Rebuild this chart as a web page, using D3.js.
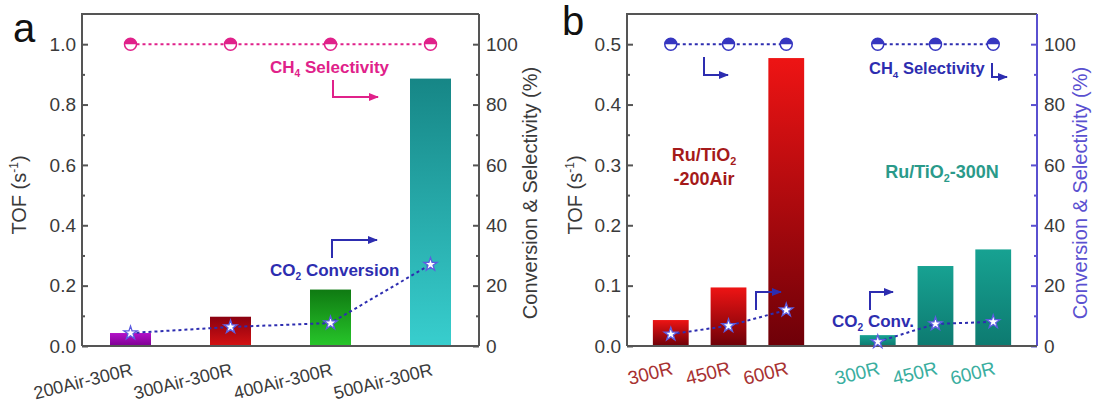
<!DOCTYPE html>
<html>
<head>
<meta charset="utf-8">
<script src="https://cdn.jsdelivr.net/npm/d3@7"></script>
<style>
  body { margin: 0; background: #fff; }
  svg { font-family: "Liberation Sans", Arial, sans-serif; }
</style>
</head>
<body>
<svg id="chart"></svg>
<script>
(() => {

  // panel a
  const catsA = ['200Air-300R', '300Air-300R', '400Air-300R', '500Air-300R'];
  const tofA = [0.043, 0.097, 0.187, 0.886];
  const convA = [4.3, 6.3, 7.6, 27];
  const selA = [100, 100, 100, 100];
  const barColorsA = [['#b312c8', '#7d0092'], ['#8a0010', '#d41212'], ['#0f7a12', '#27c62a'], ['#168686', '#38cece']];

  // panel b
  const groupsB = ['Ru/TiO2-200Air', 'Ru/TiO2-300N'];
  const catsB = ['300R', '450R', '600R'];
  const tofB = [[0.043, 0.097, 0.477], [0.018, 0.1325, 0.16]];
  const convB = [[3.9, 6.7, 11.9], [1.4, 7.3, 8.0]];
  const selB = [[100, 100, 100], [100, 100, 100]];

  const ticksTofA = [0, 0.2, 0.4, 0.6, 0.8, 1.0];
  const ticksTofB = [0, 0.1, 0.2, 0.3, 0.4, 0.5];
  const ticksPct = [0, 20, 40, 60, 80, 100];

  const width = 1099, height = 402;
  const svg = d3.select('#chart').attr('width', width).attr('height', height);
  svg.append('rect').attr('width', width).attr('height', height).attr('fill', '#fff');

  const defs = svg.append('defs');
  function grad(id, top, bottom) {
    const g = defs.append('linearGradient').attr('id', id)
      .attr('x1', 0).attr('y1', 0).attr('x2', 0).attr('y2', 1);
    g.append('stop').attr('offset', '0%').attr('stop-color', top);
    g.append('stop').attr('offset', '100%').attr('stop-color', bottom);
  }
  barColorsA.forEach((c, i) => grad('ga' + i, c[0], c[1]));
  grad('gred', '#ee1414', '#6e0008');
  grad('gteal', '#17a292', '#0d7a70');

  function arrowMarker(id, color) {
    defs.append('marker').attr('id', id)
      .attr('viewBox', '0 0 10 10').attr('refX', 9).attr('refY', 5)
      .attr('markerWidth', 5).attr('markerHeight', 5).attr('orient', 'auto')
      .append('path').attr('d', 'M0,1 L10,5 L0,9 Z').attr('fill', color);
  }
  const pink = '#e0218a', blue = '#2d2db0', axisGray = '#555', txtGray = '#3a3a3a';
  const axisBlue = '#5a50d0';
  arrowMarker('arPink', pink);
  arrowMarker('arBlue', blue);

  const top = 14, bottom = 346;

  function drawAxes(g, x0, x1, y, yR, ticks, minorStep, rightColor, leftTitleX, rightTitleX) {
    const fmtL = d3.format('.1f');
    g.append('g').attr('transform', `translate(${x0},0)`)
      .call(d3.axisLeft(y).tickValues(ticks).tickSize(-6).tickPadding(6).tickFormat(fmtL));
    const minors = d3.range(minorStep, y.domain()[1], minorStep * 2);
    g.append('g').attr('transform', `translate(${x0},0)`)
      .call(d3.axisLeft(y).tickValues(minors).tickSize(-3).tickFormat(''));
    const right = g.append('g').attr('transform', `translate(${x1},0)`)
      .call(d3.axisRight(yR).tickValues(ticksPct).tickSize(-6).tickPadding(7));
    const rightMinor = g.append('g').attr('transform', `translate(${x1},0)`)
      .call(d3.axisRight(yR).tickValues(d3.range(10, 110, 20)).tickSize(-3).tickFormat(''));
    g.selectAll('.domain').remove();
    g.selectAll('.tick line').attr('stroke', axisGray).attr('stroke-width', 2);
    right.selectAll('.tick line').attr('stroke', rightColor);
    rightMinor.selectAll('.tick line').attr('stroke', rightColor);
    g.selectAll('.tick text').attr('font-size', 19).attr('fill', txtGray);
    g.selectAll('g').attr('font-family', null);
    // frame
    g.append('path').attr('d', `M${x0},${bottom} V${top} H${x1}`)
      .attr('fill', 'none').attr('stroke', axisGray).attr('stroke-width', 2);
    g.append('line').attr('x1', x1).attr('x2', x1).attr('y1', top).attr('y2', bottom)
      .attr('stroke', rightColor).attr('stroke-width', 2);
    g.append('line').attr('x1', x0).attr('x2', x1).attr('y1', bottom).attr('y2', bottom)
      .attr('stroke', axisGray).attr('stroke-width', 2);
    // titles
    const lt = g.append('text').attr('transform', `translate(${leftTitleX},195) rotate(-90)`)
      .attr('text-anchor', 'middle').attr('font-size', 20).attr('fill', txtGray);
    lt.append('tspan').text('TOF (s');
    lt.append('tspan').attr('dy', -8).attr('font-size', 12).text('-1');
    lt.append('tspan').attr('dy', 8).text(')');
    g.append('text').attr('transform', `translate(${rightTitleX},193) rotate(-90)`)
      .attr('text-anchor', 'middle').attr('font-size', 20)
      .attr('fill', rightColor === axisGray ? txtGray : rightColor)
      .text('Conversion & Selectivity (%)');
  }

  function halfCircles(g, pts, color) {
    const r = 6;
    const c = g.selectAll(null).data(pts).enter().append('g')
      .attr('transform', d => `translate(${d[0]},${d[1]})`);
    c.append('circle').attr('r', r).attr('fill', '#fff').attr('stroke', color).attr('stroke-width', 1.5);
    c.append('path').attr('d', `M${-r},0 A${r},${r} 0 0 1 ${r},0 Z`).attr('fill', color);
  }
  function stars(g, pts) {
    g.selectAll(null).data(pts).enter().append('path')
      .attr('transform', d => `translate(${d[0]},${d[1]})`)
      .attr('d', d3.symbol(d3.symbolStar, 55)())
      .attr('fill', '#fff').attr('stroke', '#5c5ce0').attr('stroke-width', 1.3);
  }
  function dotted(g, pts, color) {
    g.append('path').attr('d', d3.line()(pts)).attr('fill', 'none')
      .attr('stroke', color).attr('stroke-width', 2).attr('stroke-dasharray', '3,3');
  }
  function label(g, x, y, color, size, parts, anchor) {
    const t = g.append('text').attr('x', x).attr('y', y).attr('fill', color)
      .attr('font-size', size).attr('font-weight', 'bold')
      .attr('text-anchor', anchor || 'start');
    parts.forEach(p => {
      if (p.sub) t.append('tspan').attr('dy', 4).attr('font-size', size * 0.6).text(p.sub);
      else t.append('tspan').attr('dy', p.up ? -4 : null).text(p.text);
    });
    return t;
  }
  function arrow(g, d, color, marker) {
    g.append('path').attr('d', d).attr('fill', 'none').attr('stroke', color)
      .attr('stroke-width', 2).attr('marker-end', `url(#${marker})`);
  }

  // ---------------- panel a ----------------
  const ga = svg.append('g');
  const xa = d3.scaleBand().domain(catsA).range([82, 479]).paddingInner(0.59).paddingOuter(0.28);
  const ya = d3.scaleLinear().domain([0, 1.1]).range([bottom, top]);
  const yaR = d3.scaleLinear().domain([0, 110]).range([bottom, top]);

  ga.selectAll('rect.bar').data(catsA).enter().append('rect')
    .attr('x', d => xa(d)).attr('width', xa.bandwidth())
    .attr('y', (d, i) => ya(tofA[i])).attr('height', (d, i) => bottom - ya(tofA[i]))
    .attr('fill', (d, i) => `url(#ga${i})`);

  drawAxes(ga, 82, 479, ya, yaR, ticksTofA, 0.1, axisGray, 26, 537);

  const cxA = d => xa(d) + xa.bandwidth() / 2;
  const selPtsA = catsA.map((d, i) => [cxA(d), yaR(selA[i])]);
  const convPtsA = catsA.map((d, i) => [cxA(d), yaR(convA[i])]);
  dotted(ga, selPtsA, pink);
  halfCircles(ga, selPtsA, pink);
  dotted(ga, convPtsA, blue);
  stars(ga, convPtsA);

  ga.selectAll('text.xl').data(catsA).enter().append('text')
    .attr('transform', d => `translate(${cxA(d) + 3},${375}) rotate(-14)`)
    .attr('text-anchor', 'end').attr('font-size', 18).attr('fill', txtGray).text(d => d);

  label(ga, 270, 73, pink, 17, [{ text: 'CH' }, { sub: '4' }, { text: ' Selectivity', up: true }]);
  arrow(ga, 'M333,80 V97 H378', pink, 'arPink');
  label(ga, 270, 276, blue, 17, [{ text: 'CO' }, { sub: '2' }, { text: ' Conversion', up: true }]);
  arrow(ga, 'M332,258 V240 H377', blue, 'arBlue');

  svg.append('text').attr('x', 13).attr('y', 42).attr('font-size', 40).attr('fill', '#111').text('a');

  // ---------------- panel b ----------------
  const gb = svg.append('g');
  const xg = d3.scaleBand().domain(groupsB).range([627, 1037]).paddingInner(0.163).paddingOuter(0.072);
  const xb = d3.scaleBand().domain(catsB).range([0, xg.bandwidth()]).paddingInner(0.38).paddingOuter(0.19);
  const yb = d3.scaleLinear().domain([0, 0.55]).range([bottom, top]);
  const ybR = d3.scaleLinear().domain([0, 110]).range([bottom, top]);
  const groupFill = ['url(#gred)', 'url(#gteal)'];
  const labelColor = ['#a83232', '#3aaea0'];

  groupsB.forEach((grp, gi) => {
    const cx = d => xg(grp) + xb(d) + xb.bandwidth() / 2;
    gb.selectAll(null).data(catsB).enter().append('rect')
      .attr('x', d => xg(grp) + xb(d)).attr('width', xb.bandwidth())
      .attr('y', (d, i) => yb(tofB[gi][i])).attr('height', (d, i) => bottom - yb(tofB[gi][i]))
      .attr('fill', groupFill[gi]);
    gb.selectAll(null).data(catsB).enter().append('text')
      .attr('transform', d => `translate(${cx(d) + 3},${374}) rotate(-14)`)
      .attr('text-anchor', 'end').attr('font-size', 19).attr('fill', labelColor[gi]).text(d => d);
  });

  drawAxes(gb, 627, 1037, yb, ybR, ticksTofB, 0.05, axisBlue, 582, 1087);

  groupsB.forEach((grp, gi) => {
    const cx = d => xg(grp) + xb(d) + xb.bandwidth() / 2;
    const selPts = catsB.map((d, i) => [cx(d), ybR(selB[gi][i])]);
    const convPts = catsB.map((d, i) => [cx(d), ybR(convB[gi][i])]);
    dotted(gb, selPts, blue);
    halfCircles(gb, selPts, '#3636c0');
    dotted(gb, convPts, blue);
    stars(gb, convPts);
  });

  const red = '#a51a1a';
  label(gb, 704, 161, red, 18, [{ text: 'Ru/TiO' }, { sub: '2' }], 'middle');
  label(gb, 704, 185, red, 18, [{ text: '-200Air' }], 'middle');
  label(gb, 942, 178, '#2a9a8a', 18, [{ text: 'Ru/TiO' }, { sub: '2' }, { text: '-300N', up: true }], 'middle');

  label(gb, 869, 74, blue, 16.5, [{ text: 'CH' }, { sub: '4' }, { text: ' Selectivity', up: true }]);
  arrow(gb, 'M992,63 V77 H1007', blue, 'arBlue');
  arrow(gb, 'M704,57 V75 H728', blue, 'arBlue');
  label(gb, 832, 327, blue, 17, [{ text: 'CO' }, { sub: '2' }, { text: ' Conv.', up: true }]);
  arrow(gb, 'M870,310 V292 H893', blue, 'arBlue');
  arrow(gb, 'M756,310 V292 H781', blue, 'arBlue');

  svg.append('text').attr('x', 562).attr('y', 35).attr('font-size', 40).attr('fill', '#111').text('b');

})();
</script>
</body>
</html>
